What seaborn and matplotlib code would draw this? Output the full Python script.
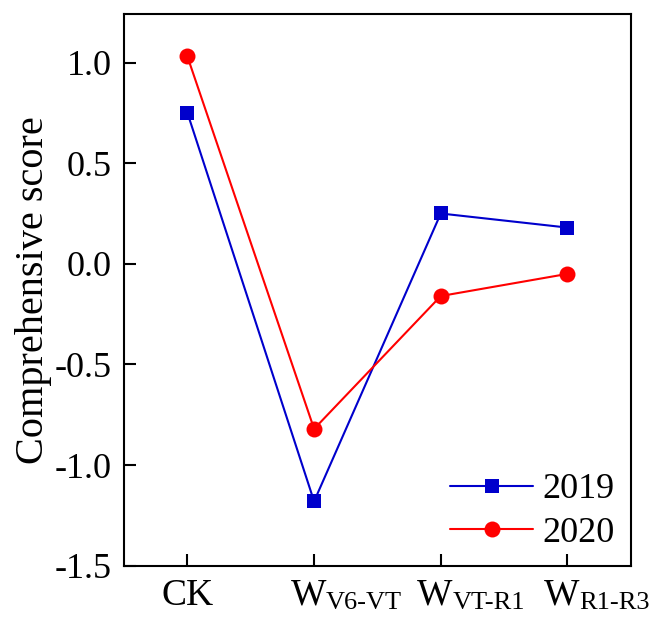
import pandas as pd
import matplotlib
matplotlib.use("Agg")
import matplotlib.pyplot as plt
from matplotlib.offsetbox import TextArea, HPacker, VPacker, DrawingArea, AnnotationBbox
import seaborn as sns

# Values
treatments = ["CK", "W_V6-VT", "W_VT-R1", "W_R1-R3"]
label_main = ["CK", "W", "W", "W"]
label_sub = ["", "V6-VT", "VT-R1", "R1-R3"]
years = ["2019", "2020"]
score_2019 = [0.75, -1.18, 0.25, 0.18]
score_2020 = [1.03, -0.82, -0.16, -0.05]
colors = {"2019": "#0000CC", "2020": "#FF0000"}

df = pd.DataFrame({
    "treatment": treatments * 2,
    "score": score_2019 + score_2020,
    "year": ["2019"] * 4 + ["2020"] * 4,
})

sns.set_style("ticks")
plt.rcParams["font.family"] = ["Liberation Serif", "DejaVu Serif"]
plt.rcParams["text.color"] = "black"
plt.rcParams["axes.labelcolor"] = "black"
plt.rcParams["xtick.color"] = "black"
plt.rcParams["ytick.color"] = "black"

fig = plt.figure(figsize=(6.53, 6.17), dpi=100)
ax = fig.add_axes([0.19, 0.083, 0.776, 0.894])

sns.lineplot(data=df, x="treatment", y="score", hue="year", style="year",
             markers={"2019": "s", "2020": "o"}, dashes=False,
             palette=colors, linewidth=1.5, markersize=10,
             markeredgewidth=0, sort=False, ax=ax)
# circles are drawn a little larger than the squares
for ln in ax.lines:
    if ln.get_marker() == "o":
        ln.set_markersize(11.5)

ax.set_xlim(-0.5, 3.5)
ax.set_ylim(-1.5, 1.24)
ax.set_yticks([-1.5, -1.0, -0.5, 0.0, 0.5, 1.0])
ax.set_yticklabels(["-1.5", "-1.0", "-0.5", "0.0", "0.5", "1.0"])
ax.set_xticks(range(len(treatments)))
ax.set_xticklabels([])
ax.tick_params(direction="in", length=8.5, width=1.5, labelsize=26,
               top=False, right=False)
ax.tick_params(axis="y", pad=9)
for s in ax.spines.values():
    s.set_linewidth(1.5)
    s.set_color("black")

# x tick labels: main letter plus a large, lowered subscript
for i, (m, sub) in enumerate(zip(label_main, label_sub)):
    main_box = TextArea(m, textprops=dict(size=27))
    if sub:
        sub_box = VPacker(children=[DrawingArea(1, 10),
                                    TextArea(sub, textprops=dict(size=19))],
                          pad=0, sep=0, align="left")
        box = HPacker(children=[main_box, sub_box], pad=0, sep=0,
                      align="top")
        ab = AnnotationBbox(box, (i, 0), xycoords=ax.get_xaxis_transform(),
                            xybox=(-17, -9), boxcoords="offset points",
                            box_alignment=(0, 1), frameon=False, pad=0)
    else:
        ab = AnnotationBbox(main_box, (i, 0),
                            xycoords=ax.get_xaxis_transform(),
                            xybox=(0, -9), boxcoords="offset points",
                            box_alignment=(0.5, 1), frameon=False, pad=0)
    ax.add_artist(ab)

ax.set_xlabel("")
ax.set_ylabel("Comprehensive score", fontsize=29, labelpad=2)

handles, labels = ax.get_legend_handles_labels()
for h in handles:
    if h.get_marker() == "o":
        h.set_markersize(11.5)
ax.legend(handles, labels, loc="lower right", frameon=False, fontsize=26,
          handlelength=2.3, handletextpad=0.25, labelspacing=0.28,
          borderaxespad=0.05)

fig.savefig("out.png", dpi=100)
